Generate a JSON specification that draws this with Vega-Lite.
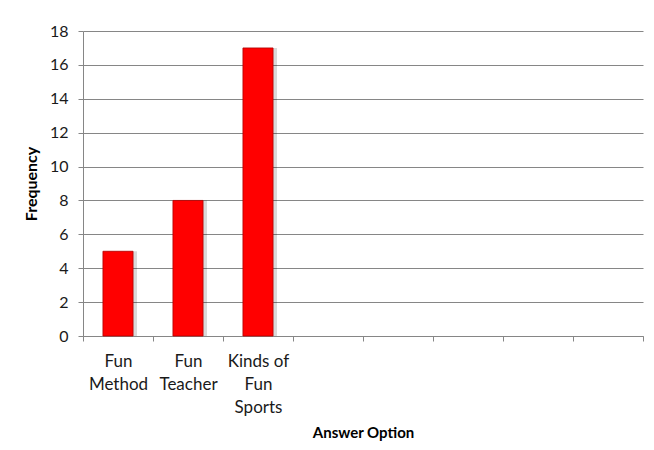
{
  "$schema": "https://vega.github.io/schema/vega-lite/v6.json",
  "width": 560,
  "height": 305,
  "autosize": {"type": "none"},
  "padding": {"left": 83, "top": 31, "right": 11, "bottom": 114},
  "background": "white",
  "data": {
    "values": [
      {"option": "Fun|Method", "frequency": 5},
      {"option": "Fun|Teacher", "frequency": 8},
      {"option": "Kinds of|Fun|Sports", "frequency": 17}
    ]
  },
  "encoding": {
    "x": {
      "field": "option",
      "type": "nominal",
      "sort": null,
      "scale": {
        "domain": ["Fun|Method", "Fun|Teacher", "Kinds of|Fun|Sports", "_e1", "_e2", "_e3", "_e4", "_e5"],
        "paddingInner": 0,
        "paddingOuter": 0
      },
      "axis": {
        "title": "Answer Option",
        "titleFont": "Lato",
        "titleFontSize": 15,
        "titleFontWeight": "bold",
        "titleColor": "black",
        "titlePadding": 10,
        "labelExpr": "indexof(datum.label, '_e') == 0 ? '' : split(datum.label, '|')",
        "labelFont": "Lato",
        "labelFontSize": 17,
        "labelColor": "#1a1a1a",
        "labelAngle": 0,
        "labelPadding": 12,
        "labelLineHeight": 23,
        "tickBand": "extent",
        "tickColor": "#868686",
        "tickSize": 5,
        "domainColor": "#868686",
        "grid": false
      }
    },
    "y": {
      "field": "frequency",
      "type": "quantitative",
      "scale": {"domain": [0, 18]},
      "axis": {
        "title": "Frequency",
        "titleFont": "Lato",
        "titleFontSize": 16,
        "titleFontWeight": "bold",
        "titleColor": "black",
        "titlePadding": 10,
        "values": [0, 2, 4, 6, 8, 10, 12, 14, 16, 18],
        "labelFont": "Lato",
        "labelFontSize": 16,
        "labelColor": "#1a1a1a",
        "labelPadding": 10,
        "tickColor": "#868686",
        "tickSize": 5,
        "domainColor": "#868686",
        "gridColor": "#868686",
        "gridWidth": 1
      }
    }
  },
  "layer": [
    {
      "mark": {"type": "bar", "color": "#000000", "opacity": 0.15, "width": {"band": 0.43}, "xOffset": 4},
      "encoding": {}
    },
    {
      "mark": {"type": "bar", "color": "#FF0000", "stroke": "#B00000", "strokeWidth": 0.8, "width": {"band": 0.43}},
      "encoding": {}
    }
  ],
  "config": {"view": {"stroke": null}}
}
